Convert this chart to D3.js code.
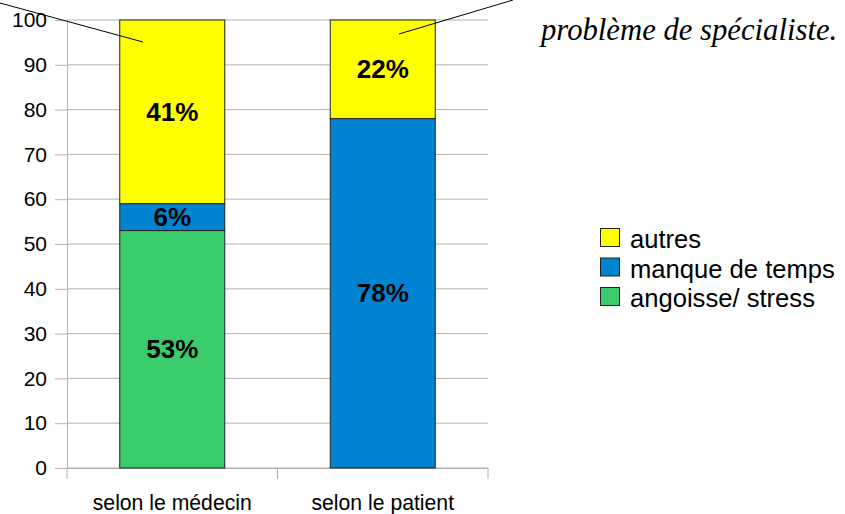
<!DOCTYPE html>
<html>
<head>
<meta charset="utf-8">
<script src="https://d3js.org/d3.v7.min.js"></script>
<style>
  body { margin: 0; background: #fff; }
</style>
</head>
<body>
<script>
const categories = ['selon le médecin', 'selon le patient'];
const seriesNames = ['angoisse/ stress', 'manque de temps', 'autres'];
const angoisse = [53, 0];
const manque = [6, 78];
const autres = [41, 22];
const yTicks = [0, 10, 20, 30, 40, 50, 60, 70, 80, 90, 100];
const colors = ['#3acc6b', '#0084d1', '#ffff00'];

const sans = "'Liberation Sans', Arial, sans-serif";

const svg = d3.select('body').append('svg').attr('width', 845).attr('height', 514);

const x = d3.scaleBand().domain(categories).range([67, 488]).paddingInner(0).paddingOuter(0);
const y = d3.scaleLinear().domain([0, 100]).range([468, 20]);

// gridlines
svg.append('g').selectAll('line').data(yTicks).enter().append('line')
  .attr('x1', 67).attr('x2', 488)
  .attr('y1', d => y(d)).attr('y2', d => y(d))
  .attr('stroke', '#b3b3b3').attr('stroke-width', 1);

const yAxis = svg.append('g').attr('transform', 'translate(67,0)')
  .call(d3.axisLeft(y).tickValues(yTicks).tickSize(12).tickPadding(8));
yAxis.select('.domain').attr('stroke', '#b3b3b3');
yAxis.selectAll('.tick line').attr('stroke', '#b3b3b3');
yAxis.selectAll('.tick text').style('font-family', sans).style('font-size', '21px').style('fill', '#000');

const xAxis = svg.append('g').attr('transform', 'translate(0,468)')
  .call(d3.axisBottom(x).tickSize(0).tickPadding(0));
xAxis.select('.domain').attr('stroke', '#b3b3b3');
xAxis.selectAll('.tick text').attr('dy', null).attr('y', 42)
  .style('font-family', sans).style('font-size', '21.2px').style('fill', '#000');
svg.append('g').selectAll('line').data([67, 277.5, 488]).enter().append('line')
  .attr('x1', d => d).attr('x2', d => d).attr('y1', 468).attr('y2', 479)
  .attr('stroke', '#b3b3b3');

const data = categories.map((c, i) => ({cat: c, 'angoisse/ stress': angoisse[i], 'manque de temps': manque[i], 'autres': autres[i]}));
const stack = d3.stack().keys(seriesNames)(data);

const bw = 105;
stack.forEach((layer, k) => {
  layer.forEach(d => {
    if (d[1] - d[0] <= 0) return;
    const cx = x(d.data.cat) + x.bandwidth() / 2;
    svg.append('rect')
      .attr('x', cx - bw / 2).attr('width', bw)
      .attr('y', y(d[1])).attr('height', y(d[0]) - y(d[1]))
      .attr('fill', colors[k]).attr('stroke', '#222').attr('stroke-width', 1);
    svg.append('text')
      .attr('x', cx).attr('y', (y(d[0]) + y(d[1])) / 2 + 9)
      .attr('text-anchor', 'middle')
      .style('font-family', sans).style('font-size', '26px').style('font-weight', 'bold')
      .text((d[1] - d[0]) + '%');
  });
});

// legend
const legOrder = [2, 1, 0];
legOrder.forEach((k, i) => {
  const yy = 228 + i * 29.5;
  svg.append('rect').attr('x', 600.5).attr('y', yy + 0.5).attr('width', 19).attr('height', 18)
    .attr('fill', colors[k]).attr('stroke', '#222');
  svg.append('text').attr('x', 630).attr('y', yy + 20)
    .style('font-family', sans).style('font-size', '25.6px')
    .text(seriesNames[k]);
});

// annotation lines
svg.append('line').attr('x1', 0).attr('y1', 3).attr('x2', 143).attr('y2', 42).attr('stroke', '#000');
svg.append('line').attr('x1', 399).attr('y1', 34).attr('x2', 513).attr('y2', 0).attr('stroke', '#000');
svg.append('text').attr('x', 541).attr('y', 40)
  .style('font-family', "'Liberation Serif', 'Times New Roman', serif")
  .style('font-size', '30.7px').style('font-style', 'italic')
  .text('problème de spécialiste.');
</script>
</body>
</html>
